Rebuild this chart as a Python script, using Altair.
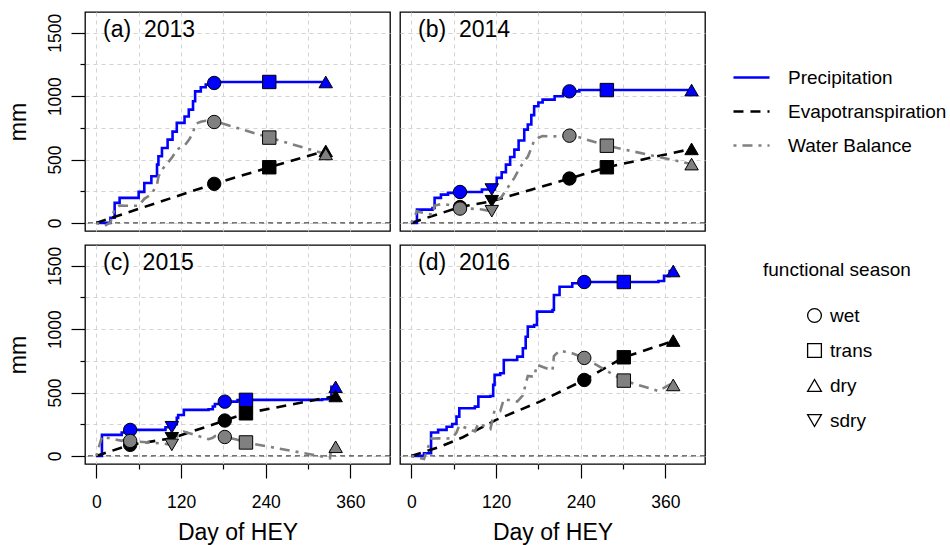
import altair as alt
import pandas as pd

FONT = "Liberation Sans"

panels = ["2013", "2014", "2015", "2016"]
panel_labels = ["(a)\u00a0 2013", "(b)\u00a0 2014", "(c)\u00a0 2015", "(d)\u00a0 2016"]
series_names = ["Precipitation", "Evapotranspiration", "Water Balance"]
season_names = ["wet", "trans", "dry", "sdry"]

# ---- cumulative precipitation (step) ----
p13_day = [0, 20, 26, 33, 60, 68, 78, 86, 88, 93, 101, 108, 114, 125, 131, 137, 140, 148, 155, 163, 170, 325]
p13_mm = [0, 40, 158, 197, 245, 315, 368, 460, 526, 591, 657, 720, 789, 840, 894, 960, 1038, 1070, 1091, 1104, 1112, 1112]
p14_day = [0, 8, 30, 33, 42, 52, 65, 100, 118, 121, 128, 134, 140, 146, 152, 160, 165, 170, 174, 180, 186, 203, 215, 222, 238, 397]
p14_mm = [0, 105, 118, 197, 223, 237, 244, 263, 300, 355, 400, 460, 520, 578, 650, 736, 776, 850, 920, 950, 973, 999, 1020, 1038, 1048, 1048]
p15_day = [0, 8, 36, 41, 98, 110, 114, 116, 124, 159, 165, 168, 178, 200, 212, 320, 333, 339]
p15_mm = [0, 166, 184, 205, 226, 250, 300, 323, 363, 368, 390, 410, 428, 440, 442, 447, 545, 545]
p16_day = [0, 18, 28, 38, 50, 58, 64, 68, 90, 95, 112, 116, 118, 126, 131, 150, 158, 162, 165, 174, 178, 200, 202, 210, 228, 240, 350, 358, 366, 371]
p16_mm = [0, 21, 184, 205, 230, 252, 310, 376, 389, 468, 473, 560, 639, 652, 757, 783, 849, 940, 1020, 1033, 1138, 1151, 1270, 1335, 1362, 1372, 1380, 1420, 1459, 1459]

# ---- cumulative evapotranspiration ----
e13_day = [0, 167, 245, 325]
e13_mm = [0, 308, 439, 568]
e14_day = [0, 69, 114, 224, 277, 397]
e14_mm = [0, 125, 171, 350, 439, 584]
e15_day = [0, 48, 107, 182, 212, 339]
e15_mm = [0, 87, 139, 279, 336, 473]
e16_day = [0, 40, 73, 120, 182, 245, 301, 373]
e16_mm = [0, 70, 147, 284, 428, 599, 778, 910]

# ---- water balance ----
w13_day = [0, 12, 20, 26, 33, 60, 68, 78, 86, 88, 93, 101, 108, 114, 125, 131, 137, 140, 148, 155, 163, 170, 245, 325]
w13_mm = [0, -22, 3, 110, 136, 135, 190, 225, 302, 364, 420, 471, 521, 579, 610, 653, 708, 780, 798, 806, 804, 799, 673, 544]
w14_day = [0, 8, 30, 33, 42, 52, 69, 100, 114, 118, 121, 128, 134, 140, 146, 152, 160, 165, 170, 174, 180, 186, 203, 215, 224, 238, 277, 397]
w14_mm = [0, 91, 64, 137, 147, 143, 119, 106, 92, 122, 173, 206, 256, 307, 355, 417, 490, 522, 588, 651, 672, 685, 683, 685, 688, 675, 609, 464]
w15_day = [0, 8, 36, 41, 48, 98, 107, 110, 114, 116, 124, 159, 165, 168, 182, 200, 212, 320, 331, 333, 339]
w15_mm = [0, 152, 119, 131, 118, 95, 87, 105, 148, 167, 192, 132, 143, 157, 149, 127, 106, -5, -18, 78, 72]
w16_day = [0, 18, 28, 38, 50, 58, 64, 68, 90, 95, 112, 118, 126, 131, 150, 158, 165, 174, 178, 200, 202, 210, 228, 245, 301, 350, 366, 371]
w16_mm = [0, -25, 135, 139, 137, 140, 184, 241, 193, 257, 212, 361, 354, 448, 429, 477, 631, 624, 719, 674, 788, 831, 809, 773, 594, 512, 562, 560]

# ---- functional season markers ----
m13_day = [167, 245, 325]
m13_season = ["wet", "trans", "dry"]
m13_p = [1104, 1112, 1112]
m13_e = [308, 439, 568]
m13_w = [796, 673, 544]
m14_day = [69, 114, 224, 277, 397]
m14_season = ["wet", "sdry", "wet", "trans", "dry"]
m14_p = [244, 263, 1038, 1048, 1048]
m14_e = [125, 171, 350, 439, 584]
m14_w = [113, 92, 688, 609, 464]
m15_day = [48, 107, 182, 212, 339]
m15_season = ["wet", "sdry", "wet", "trans", "dry"]
m15_p = [205, 226, 428, 442, 545]
m15_e = [87, 139, 279, 336, 473]
m15_w = [118, 87, 149, 106, 72]
m16_day = [245, 301, 371]
m16_season = ["wet", "trans", "dry"]
m16_p = [1372, 1372, 1459]
m16_e = [599, 778, 910]
m16_w = [773, 594, 560]

P = [(p13_day, p13_mm), (p14_day, p14_mm), (p15_day, p15_mm), (p16_day, p16_mm)]
E = [(e13_day, e13_mm), (e14_day, e14_mm), (e15_day, e15_mm), (e16_day, e16_mm)]
W = [(w13_day, w13_mm), (w14_day, w14_mm), (w15_day, w15_mm), (w16_day, w16_mm)]
M = [(m13_day, m13_season, m13_p, m13_e, m13_w), (m14_day, m14_season, m14_p, m14_e, m14_w),
     (m15_day, m15_season, m15_p, m15_e, m15_w), (m16_day, m16_season, m16_p, m16_e, m16_w)]

color_scale = alt.Scale(domain=series_names, range=["#0000ff", "#000000", "#808080"])
fill_scale = alt.Scale(domain=series_names[::-1], range=["#808080", "#000000", "#0000ff"])
dash_scale = alt.Scale(domain=series_names, range=[[1, 0], [10, 7], [3, 6, 10, 6]])
shape_scale = alt.Scale(domain=season_names, range=["circle", "square", "triangle-up", "triangle-down"])
# (size domain listed in another order so that its hidden legend is not merged with the shape legend)
size_scale = alt.Scale(domain=["dry", "sdry", "wet", "trans"], range=[180, 180, 125, 110])

leg_lines = alt.Legend(
    title=None, orient="none", legendX=647, legendY=46,
    symbolType="stroke", symbolSize=1300, symbolStrokeWidth=2.5,
    labelFontSize=19, labelFont=FONT, labelOffset=17, rowPadding=4,
)
leg_shapes = alt.Legend(
    title="functional season", orient="none", legendX=678, legendY=249,
    titleFontSize=19, titleFont=FONT, titleFontWeight="normal", titleAnchor="start",
    titlePadding=26, labelFontSize=19, labelFont=FONT, symbolSize=190,
    symbolFillColor="white", symbolStrokeColor="black", symbolStrokeWidth=1.3,
    symbolOffset=42, labelOffset=6, rowPadding=15,
)


def xenc(show):
    ax = alt.Axis(
        values=[0, 60, 120, 180, 240, 300, 360], grid=True, gridDash=[4, 4], gridColor="#d3d3d3",
        gridWidth=1, domain=False, ticks=show, labels=show,
        tickSize={"condition": {"test": "datum.value % 120 === 0", "value": 14}, "value": 5},
        tickColor="black", tickWidth=1.2,
        labelExpr="datum.value % 120 === 0 ? datum.label : ''", labelFontSize=17.5, labelFont=FONT,
        labelPadding=15, labelOverlap=False, labelFlush=False, labelColor="black", format="d",
        title="Day of HEY" if show else None, titleFontSize=23, titleFont=FONT,
        titleFontWeight="normal", titlePadding=11, titleColor="black",
    )
    return alt.X("day:Q", scale=alt.Scale(domain=[-16, 416], nice=False, zero=False), axis=ax)


def yenc(show):
    ax = alt.Axis(
        values=[0, 250, 500, 750, 1000, 1250, 1500], grid=True, gridDash=[4, 4], gridColor="#d3d3d3",
        gridWidth=1, domain=False, ticks=show, labels=show,
        tickSize={"condition": {"test": "datum.value % 500 === 0", "value": 14}, "value": 5},
        tickColor="black", tickWidth=1.2,
        labelExpr="datum.value % 500 === 0 ? datum.label : ''", labelFontSize=17.5, labelFont=FONT,
        labelAngle=270, labelAlign="center", labelBaseline="bottom",
        labelPadding=6.5, labelOverlap=False, labelFlush=False, labelColor="black", format="d",
        title="mm" if show else None, titleFontSize=23, titleFont=FONT,
        titleFontWeight="normal", titlePadding=16, titleColor="black",
    )
    return alt.Y("mm:Q", scale=alt.Scale(domain=[-64, 1664], nice=False, zero=False), axis=ax)


def panel(i, show_x, show_y):
    pdays, pvals = P[i]
    edays, evals = E[i]
    wdays, wvals = W[i]
    mdays, mseas, mp, me, mw = M[i]
    pdf = pd.DataFrame({"day": pdays, "mm": pvals, "series": "Precipitation"})
    odf = pd.concat([
        pd.DataFrame({"day": edays, "mm": evals, "series": "Evapotranspiration"}),
        pd.DataFrame({"day": wdays, "mm": wvals, "series": "Water Balance"}),
    ])
    mdf = pd.concat([
        pd.DataFrame({"day": mdays, "mm": mp, "season": mseas, "series": "Precipitation"}),
        pd.DataFrame({"day": mdays, "mm": me, "season": mseas, "series": "Evapotranspiration"}),
        pd.DataFrame({"day": mdays, "mm": mw, "season": mseas, "series": "Water Balance"}),
    ])
    mdf["marker"] = mdf["season"]
    mdf["kind"] = mdf["series"]
    x = xenc(show_x)
    y = yenc(show_y)
    zero = alt.Chart(pd.DataFrame({"mm": [0]})).mark_rule(
        color="#222222", strokeDash=[5, 4], strokeWidth=1
    ).encode(y=y)
    pline = alt.Chart(pdf).mark_line(interpolate="step-after", strokeWidth=2.6).encode(
        x=x, y=y,
        color=alt.Color("series:N", scale=color_scale, legend=leg_lines, sort=series_names),
        strokeDash=alt.StrokeDash("series:N", scale=dash_scale, legend=leg_lines, sort=series_names),
    )
    oline = alt.Chart(odf).mark_line(strokeWidth=2.6).encode(
        x=x, y=y,
        color=alt.Color("series:N", scale=color_scale, legend=leg_lines, sort=series_names),
        strokeDash=alt.StrokeDash("series:N", scale=dash_scale, legend=leg_lines, sort=series_names),
    )
    pts = alt.Chart(mdf).mark_point(filled=True, stroke="black", strokeWidth=1, opacity=1).encode(
        x=x, y=y,
        shape=alt.Shape("season:N", scale=shape_scale, legend=leg_shapes),
        fill=alt.Fill("kind:N", scale=fill_scale, legend=None),
        size=alt.Size("marker:N", scale=size_scale, legend=None),
    )
    lab = alt.Chart(pd.DataFrame({"label": [panel_labels[i]]})).mark_text(
        align="left", baseline="middle", fontSize=23, font=FONT, color="black"
    ).encode(text="label:N", x=alt.value(18), y=alt.value(18))
    return alt.layer(zero, pline, oline, pts, lab).properties(width=305, height=219)


top = alt.hconcat(panel(0, False, True), panel(1, False, False), spacing=6)
bottom = alt.hconcat(panel(2, True, True), panel(3, True, False), spacing=6)
chart = alt.vconcat(top, bottom, spacing=12).properties(
    padding={"left": 6, "top": 11, "right": 0, "bottom": 0}, background="white"
).configure_view(
    stroke="black", strokeWidth=1.3
)

chart.save("out.html", embed_options={"renderer": "svg", "actions": False})
